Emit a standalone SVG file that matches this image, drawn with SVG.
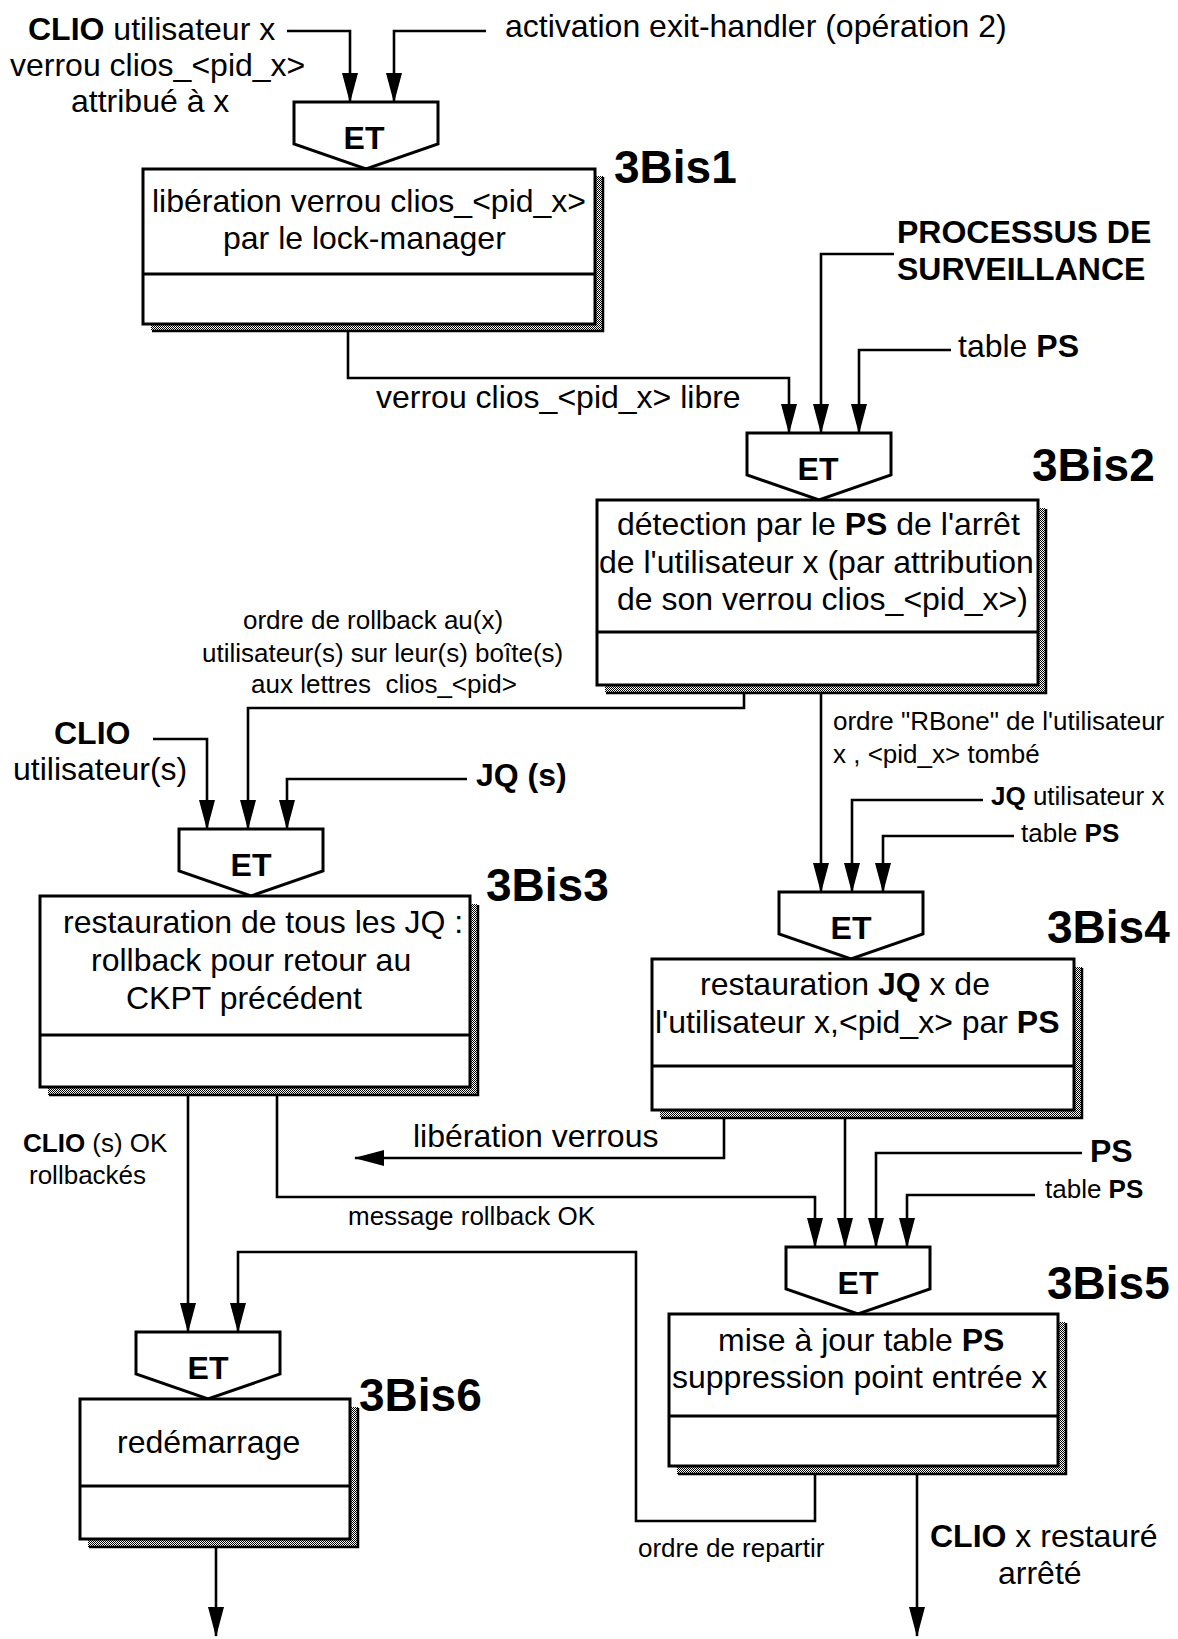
<svg xmlns="http://www.w3.org/2000/svg" width="1178" height="1639" viewBox="0 0 1178 1639">
  <style>
    text { font-family: "Liberation Sans", Arial, Helvetica, sans-serif; fill: #000; }
    .t { font-size: 32px; }
    .s { font-size: 26px; }
    .b { font-weight: bold; }
    .tag { font-size: 46px; font-weight: bold; }
    .et { font-size: 32px; font-weight: bold; text-anchor: middle; }
    .gate { fill: #fff; stroke: #000; stroke-width: 3; stroke-linejoin: miter; }
    .box { fill: #fff; stroke: #000; stroke-width: 3; }
    .div { stroke: #000; stroke-width: 3; }
    .shadow { fill: url(#hatch); stroke: none; }
    .edge { fill: none; stroke: #000; stroke-width: 2.5; }
    .wire { fill: none; stroke: #000; stroke-width: 2.6; marker-end: url(#arrow); }
  </style>
  <defs>
    <pattern id="hatch" width="2" height="2" patternUnits="userSpaceOnUse">
      <rect width="2" height="2" fill="#fff"/>
      <rect width="1" height="1" fill="#000"/>
      <rect x="1" y="1" width="1" height="1" fill="#000"/>
    </pattern>
    <marker id="arrow" markerUnits="userSpaceOnUse" markerWidth="30" markerHeight="16" viewBox="0 0 30 16" refX="29" refY="8" orient="auto">
      <path d="M0,0 L30,8 L0,16 Z" fill="#000"/>
    </marker>
  </defs>

  <!-- external inputs and outputs -->
  <g id="inputs">
    <text class="t" x="28" y="40"><tspan class="b">CLIO</tspan> utilisateur x</text>
    <text class="t" x="10" y="76">verrou clios_&lt;pid_x&gt;</text>
    <text class="t" x="71" y="112">attribué à x</text>
    <text class="t" x="505" y="37">activation exit-handler (opération 2)</text>
    <text class="t b" x="897" y="243">PROCESSUS DE</text>
    <text class="t b" x="897" y="280">SURVEILLANCE</text>
    <text class="t" x="958" y="357">table <tspan class="b">PS</tspan></text>
    <text class="s" x="991" y="805"><tspan class="b">JQ</tspan> utilisateur x</text>
    <text class="s" x="1021" y="842">table <tspan class="b">PS</tspan></text>
    <text class="t b" x="54" y="744">CLIO</text>
    <text class="t" x="13" y="780">utilisateur(s)</text>
    <text class="t b" x="476" y="786">JQ (s)</text>
    <text class="t b" x="1090" y="1162">PS</text>
    <text class="s" x="1045" y="1198">table <tspan class="b">PS</tspan></text>
  </g>

  <!-- 3Bis1 -->
  <g id="n3bis1">
    <polygon class="gate" points="294,102 438,102 438,144 366,169 294,144"/>
    <text class="et" x="364" y="149">ET</text>
    <rect class="shadow" x="151" y="176" width="452" height="155"/>
    <polyline class="edge" points="603,177 603,331 152,331"/>
    <rect class="box" x="143" y="169" width="452" height="155"/>
    <line class="div" x1="143" y1="274" x2="595" y2="274"/>
    <text class="t" x="152" y="212">libération verrou clios_&lt;pid_x&gt;</text>
    <text class="t" x="223" y="249">par le lock-manager</text>
    <text class="tag" x="614" y="183">3Bis1</text>
  </g>

  <!-- 3Bis2 -->
  <g id="n3bis2">
    <polygon class="gate" points="747,433 891,433 891,475 819,500 747,475"/>
    <text class="et" x="818" y="480">ET</text>
    <rect class="shadow" x="605" y="508" width="441" height="185"/>
    <polyline class="edge" points="1046,509 1046,693 606,693"/>
    <rect class="box" x="597" y="500" width="441" height="185"/>
    <line class="div" x1="597" y1="632" x2="1038" y2="632"/>
    <text class="t" x="617" y="535">détection par le <tspan class="b">PS</tspan> de l'arrêt</text>
    <text class="t" x="599" y="573">de l'utilisateur x (par attribution</text>
    <text class="t" x="617" y="610">de son verrou clios_&lt;pid_x&gt;)</text>
    <text class="tag" x="1032" y="481">3Bis2</text>
  </g>

  <!-- 3Bis3 -->
  <g id="n3bis3">
    <polygon class="gate" points="179,829 323,829 323,871 251,896 179,871"/>
    <text class="et" x="251" y="876">ET</text>
    <rect class="shadow" x="48" y="904" width="430" height="191"/>
    <polyline class="edge" points="478,905 478,1095 49,1095"/>
    <rect class="box" x="40" y="896" width="430" height="191"/>
    <line class="div" x1="40" y1="1035" x2="470" y2="1035"/>
    <text class="t" x="63" y="933">restauration de tous les JQ :</text>
    <text class="t" x="91" y="971">rollback pour retour au</text>
    <text class="t" x="126" y="1009">CKPT précédent</text>
    <text class="tag" x="486" y="901">3Bis3</text>
  </g>

  <!-- 3Bis4 -->
  <g id="n3bis4">
    <polygon class="gate" points="779,892 923,892 923,934 851,959 779,934"/>
    <text class="et" x="851" y="939">ET</text>
    <rect class="shadow" x="660" y="967" width="422" height="151"/>
    <polyline class="edge" points="1082,968 1082,1118 661,1118"/>
    <rect class="box" x="652" y="959" width="422" height="151"/>
    <line class="div" x1="652" y1="1066" x2="1074" y2="1066"/>
    <text class="t" x="700" y="995">restauration <tspan class="b">JQ</tspan> x de</text>
    <text class="t" x="655" y="1033">l'utilisateur x,&lt;pid_x&gt; par <tspan class="b">PS</tspan></text>
    <text class="tag" x="1047" y="943">3Bis4</text>
  </g>

  <!-- 3Bis5 -->
  <g id="n3bis5">
    <polygon class="gate" points="786,1247 930,1247 930,1289 858,1314 786,1289"/>
    <text class="et" x="858" y="1294">ET</text>
    <rect class="shadow" x="677" y="1322" width="389" height="152"/>
    <polyline class="edge" points="1066,1323 1066,1474 678,1474"/>
    <rect class="box" x="669" y="1314" width="389" height="152"/>
    <line class="div" x1="669" y1="1416" x2="1058" y2="1416"/>
    <text class="t" x="718" y="1351">mise à jour table <tspan class="b">PS</tspan></text>
    <text class="t" x="672" y="1388">suppression point entrée x</text>
    <text class="tag" x="1047" y="1299">3Bis5</text>
  </g>

  <!-- 3Bis6 -->
  <g id="n3bis6">
    <polygon class="gate" points="136,1332 280,1332 280,1374 208,1399 136,1374"/>
    <text class="et" x="208" y="1379">ET</text>
    <rect class="shadow" x="88" y="1407" width="270" height="140"/>
    <polyline class="edge" points="358,1408 358,1547 89,1547"/>
    <rect class="box" x="80" y="1399" width="270" height="140"/>
    <line class="div" x1="80" y1="1486" x2="350" y2="1486"/>
    <text class="t" x="117" y="1453">redémarrage</text>
    <text class="tag" x="359" y="1411">3Bis6</text>
  </g>

  <!-- connectors and their labels -->
  <g id="connectors">
    <path class="wire" d="M287,31 H350 V102"/>
    <path class="wire" d="M486,31 H394 V102"/>
    <path class="wire" d="M348,332 V378 H789 V433"/>
    <path class="wire" d="M894,254 H821 V433"/>
    <path class="wire" d="M951,350 H859 V433"/>
    <path class="wire" d="M744,694 V708 H248 V829"/>
    <path class="wire" d="M821,694 V892"/>
    <path class="wire" d="M983,800 H852 V892"/>
    <path class="wire" d="M1014,836 H883 V892"/>
    <path class="wire" d="M153,739 H207 V829"/>
    <path class="wire" d="M467,779 H287 V829"/>
    <path class="wire" d="M188,1096 V1332"/>
    <path class="wire" d="M277,1096 V1197 H815 V1247"/>
    <path class="wire" d="M724,1119 V1158 H355"/>
    <path class="wire" d="M845,1119 V1247"/>
    <path class="wire" d="M1082,1153 H876 V1247"/>
    <path class="wire" d="M1035,1195 H907 V1247"/>
    <path class="wire" d="M815,1475 V1521 H636 V1252 H238 V1332"/>
    <path class="wire" d="M917,1475 V1636"/>
    <path class="wire" d="M216,1548 V1636"/>

    <text class="t" x="376" y="408">verrou clios_&lt;pid_x&gt; libre</text>
    <text class="s" x="243" y="629">ordre de rollback au(x)</text>
    <text class="s" x="202" y="662">utilisateur(s) sur leur(s) boîte(s)</text>
    <text class="s" x="251" y="693" xml:space="preserve">aux lettres  clios_&lt;pid&gt;</text>
    <text class="s" x="833" y="730">ordre "RBone" de l'utilisateur</text>
    <text class="s" x="833" y="763">x , &lt;pid_x&gt; tombé</text>
    <text class="s" x="23" y="1152"><tspan class="b">CLIO</tspan> (s) OK</text>
    <text class="s" x="29" y="1184">rollbackés</text>
    <text class="t" x="413" y="1147">libération verrous</text>
    <text class="s" x="348" y="1225">message rollback OK</text>
    <text class="s" x="638" y="1557">ordre de repartir</text>
    <text class="t" x="930" y="1547"><tspan class="b">CLIO</tspan> x restauré</text>
    <text class="t" x="998" y="1584">arrêté</text>
  </g>
</svg>
